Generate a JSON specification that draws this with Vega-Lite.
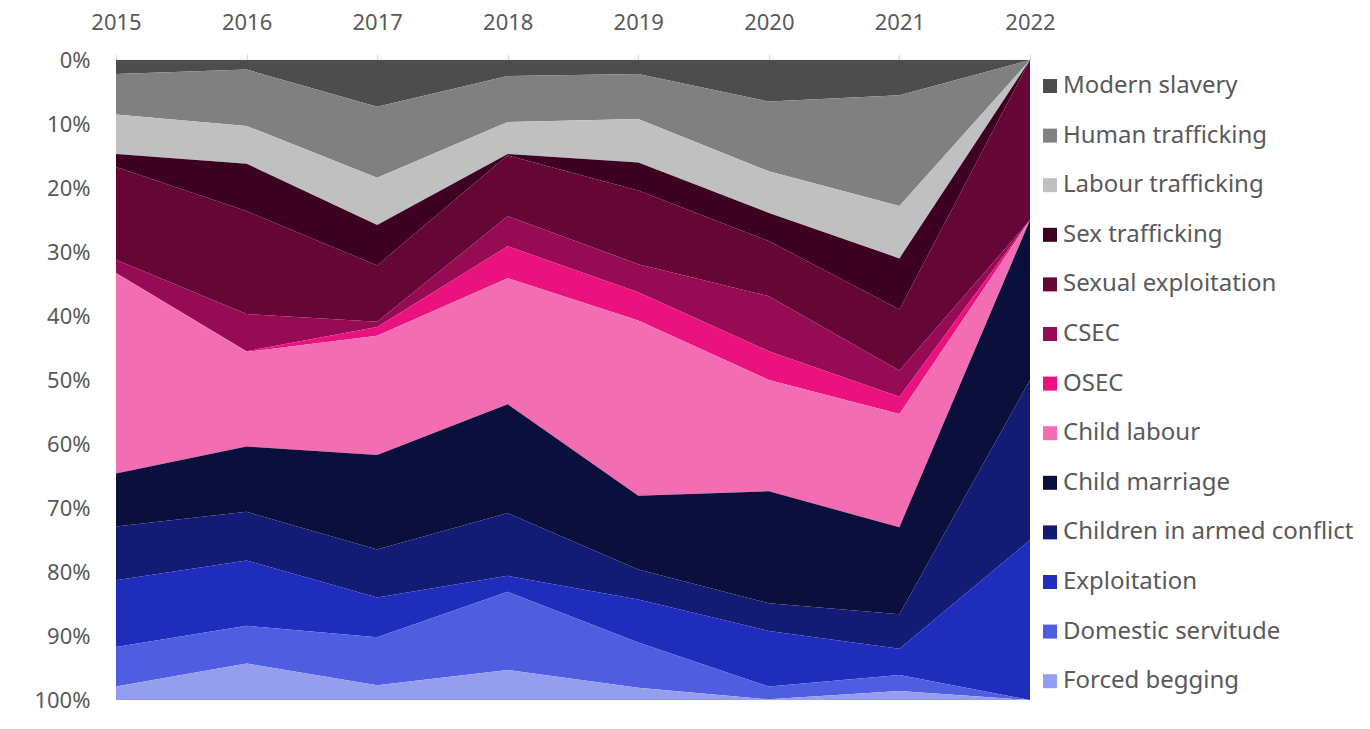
{
  "$schema": "https://vega.github.io/schema/vega-lite/v6.json",
  "width": 914,
  "height": 640,
  "autosize": {"type": "none"},
  "padding": {"left": 116, "top": 60, "right": 340, "bottom": 29},
  "background": "white",
  "config": {
    "font": "Noto Sans",
    "view": {"stroke": null},
    "axis": {"labelColor": "#595959", "labelFontSize": 22, "labelFont": "Noto Sans", "grid": false, "titleColor": "#595959"},
    "legend": {"labelColor": "#595959", "labelFontSize": 24, "labelFont": "Noto Sans"}
  },
  "data": {
    "values": [
      {"year": 2015, "Modern slavery": 2.2, "Human trafficking": 6.3, "Labour trafficking": 6.2, "Sex trafficking": 2.0, "Sexual exploitation": 14.5, "CSEC": 2.1, "OSEC": 0, "Child labour": 31.3, "Child marriage": 8.3, "Children in armed conflict": 8.4, "Exploitation": 10.4, "Domestic servitude": 6.2, "Forced begging": 2.1},
      {"year": 2016, "Modern slavery": 1.5, "Human trafficking": 8.8, "Labour trafficking": 5.9, "Sex trafficking": 7.4, "Sexual exploitation": 16.1, "CSEC": 5.8, "OSEC": 0.1, "Child labour": 14.8, "Child marriage": 10.2, "Children in armed conflict": 7.6, "Exploitation": 10.2, "Domestic servitude": 5.9, "Forced begging": 5.7},
      {"year": 2017, "Modern slavery": 7.3, "Human trafficking": 11.1, "Labour trafficking": 7.4, "Sex trafficking": 6.3, "Sexual exploitation": 8.8, "CSEC": 0.8, "OSEC": 1.4, "Child labour": 18.6, "Child marriage": 14.8, "Children in armed conflict": 7.5, "Exploitation": 6.2, "Domestic servitude": 7.5, "Forced begging": 2.3},
      {"year": 2018, "Modern slavery": 2.5, "Human trafficking": 7.2, "Labour trafficking": 5.0, "Sex trafficking": 0.2, "Sexual exploitation": 9.5, "CSEC": 4.7, "OSEC": 5.0, "Child labour": 19.7, "Child marriage": 17.0, "Children in armed conflict": 9.8, "Exploitation": 2.5, "Domestic servitude": 12.2, "Forced begging": 4.7},
      {"year": 2019, "Modern slavery": 2.2, "Human trafficking": 7.0, "Labour trafficking": 6.8, "Sex trafficking": 4.4, "Sexual exploitation": 11.5, "CSEC": 4.4, "OSEC": 4.4, "Child labour": 27.4, "Child marriage": 11.5, "Children in armed conflict": 4.7, "Exploitation": 6.7, "Domestic servitude": 7.1, "Forced begging": 1.9},
      {"year": 2020, "Modern slavery": 6.5, "Human trafficking": 10.9, "Labour trafficking": 6.5, "Sex trafficking": 4.4, "Sexual exploitation": 8.6, "CSEC": 8.6, "OSEC": 4.5, "Child labour": 17.4, "Child marriage": 17.5, "Children in armed conflict": 4.3, "Exploitation": 8.7, "Domestic servitude": 2.0, "Forced begging": 0.1},
      {"year": 2021, "Modern slavery": 5.5, "Human trafficking": 17.3, "Labour trafficking": 8.2, "Sex trafficking": 8.0, "Sexual exploitation": 9.5, "CSEC": 4.1, "OSEC": 2.7, "Child labour": 17.7, "Child marriage": 13.6, "Children in armed conflict": 5.4, "Exploitation": 4.1, "Domestic servitude": 2.5, "Forced begging": 1.4},
      {"year": 2022, "Modern slavery": 0, "Human trafficking": 0, "Labour trafficking": 0, "Sex trafficking": 0, "Sexual exploitation": 25, "CSEC": 0, "OSEC": 0, "Child labour": 0, "Child marriage": 25, "Children in armed conflict": 25, "Exploitation": 25, "Domestic servitude": 0, "Forced begging": 0}
    ]
  },
  "transform": [
    {"fold": ["Modern slavery", "Human trafficking", "Labour trafficking", "Sex trafficking", "Sexual exploitation", "CSEC", "OSEC", "Child labour", "Child marriage", "Children in armed conflict", "Exploitation", "Domestic servitude", "Forced begging"], "as": ["category", "value"]},
    {"window": [{"op": "row_number", "as": "stackorder"}], "groupby": ["year"]}
  ],
  "mark": {"type": "area", "interpolate": "linear"},
  "encoding": {
    "x": {
      "field": "year",
      "type": "quantitative",
      "scale": {"domain": [2015, 2022], "nice": false, "zero": false},
      "axis": {
        "orient": "top",
        "title": null,
        "values": [2015, 2016, 2017, 2018, 2019, 2020, 2021, 2022],
        "format": "d",
        "domain": true,
        "domainColor": "#d9d9d9",
        "domainWidth": 1.5,
        "ticks": true,
        "tickColor": "#d9d9d9",
        "tickSize": 6,
        "labelPadding": 20,
        "labelFlush": false
      }
    },
    "y": {
      "field": "value",
      "type": "quantitative",
      "stack": "normalize",
      "scale": {"reverse": true, "domain": [0, 1], "nice": false},
      "axis": {
        "title": null,
        "format": ".0%",
        "values": [0, 0.1, 0.2, 0.3, 0.4, 0.5, 0.6, 0.7, 0.8, 0.9, 1],
        "domain": false,
        "ticks": false,
        "tickSize": 0,
        "labelPadding": 26,
        "labelFlush": false
      }
    },
    "order": {"field": "stackorder", "type": "quantitative", "sort": "ascending"},
    "color": {
      "field": "category",
      "type": "nominal",
      "sort": ["Modern slavery", "Human trafficking", "Labour trafficking", "Sex trafficking", "Sexual exploitation", "CSEC", "OSEC", "Child labour", "Child marriage", "Children in armed conflict", "Exploitation", "Domestic servitude", "Forced begging"],
      "scale": {
        "domain": ["Modern slavery", "Human trafficking", "Labour trafficking", "Sex trafficking", "Sexual exploitation", "CSEC", "OSEC", "Child labour", "Child marriage", "Children in armed conflict", "Exploitation", "Domestic servitude", "Forced begging"],
        "range": ["#4d4d4d", "#808080", "#c0c0c0", "#3d0021", "#650636", "#960b53", "#e9127f", "#f36db2", "#0b0f3c", "#131c75", "#1f2dbd", "#4f5de0", "#959eee"]
      },
      "legend": {
        "title": null,
        "orient": "none",
        "legendX": 922,
        "legendY": 14,
        "symbolType": "square",
        "symbolSize": 196,
        "symbolStrokeWidth": 0,
        "labelOffset": 1,
        "rowPadding": 25.6,
        "labelLimit": 400
      }
    }
  }
}
